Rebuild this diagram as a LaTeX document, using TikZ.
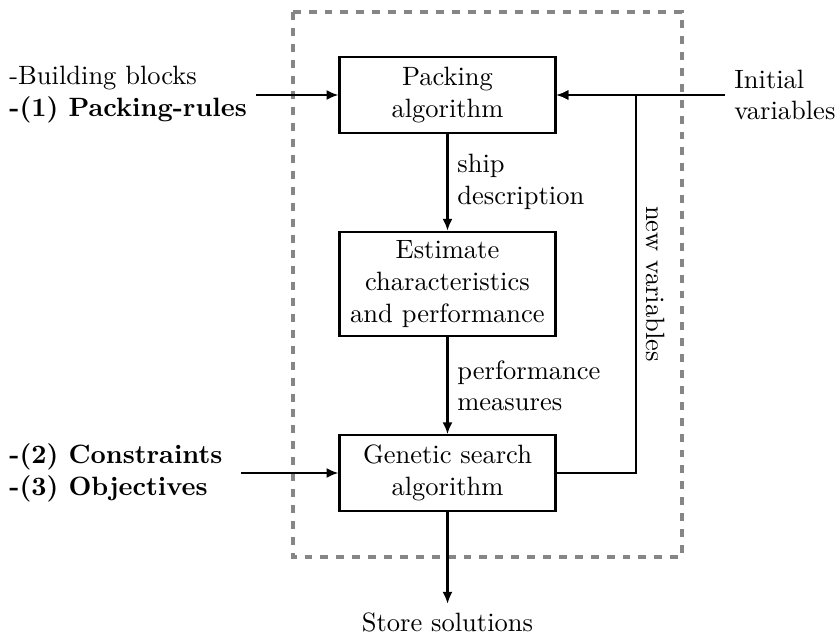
\documentclass[tikz,border=0pt]{standalone}
\usetikzlibrary{arrows.meta}
\begin{document}
\begin{tikzpicture}[
  block/.style={draw, thick, align=center, text width=2.63cm,
                minimum height=1.0cm},
  arrow/.style={-{Latex[length=4.5pt, width=3.8pt]}, thick},
  frame/.style={draw=gray!95, dashed, line width=1.2pt},
  note/.style={align=left}
]
  \useasboundingbox (-5.935,1.26) rectangle (5.179,-7.175);

  \draw[frame] (-2.049,1.101) rectangle (3.110,-6.127);

  \node[block] (pack) at (0,0) {Packing\\algorithm};
  \node[block] (est) at (0,-2.507)
    {Estimate\\characteristics\\and performance};
  \node[block] (gen) at (0,-5.013) {Genetic search\\algorithm};
  \node (store) at (0,-7.0) {Store solutions};

  \node[note, anchor=west] (bb) at (-5.935,0)
    {-Building blocks\\\textbf{-(1) Packing-rules}};
  \node[note, anchor=west] (cons) at (-5.935,-5.013)
    {\textbf{-(2) Constraints}\\\textbf{-(3) Objectives}};
  \node[note, anchor=west] (init) at (3.68,0) {Initial\\variables};
  \coordinate (fb) at (2.5,0);

  \draw[arrow] (bb.east) -- (pack.west);
  \draw[arrow, shorten <=0.12cm] (cons.east) -- (gen.west);
  \draw[arrow] (init.west) -- (pack.east);
  \draw[arrow] (pack) -- node[note, right]{ship\\description} (est);
  \draw[arrow] (est) -- node[note, right]{performance\\measures} (gen);
  \draw[arrow] (gen) -- (store);
  \draw[arrow] (gen.east) -| (fb)
    node[pos=0.75, rotate=-90, anchor=south]{new variables} -- (pack.east);
\end{tikzpicture}
\end{document}
